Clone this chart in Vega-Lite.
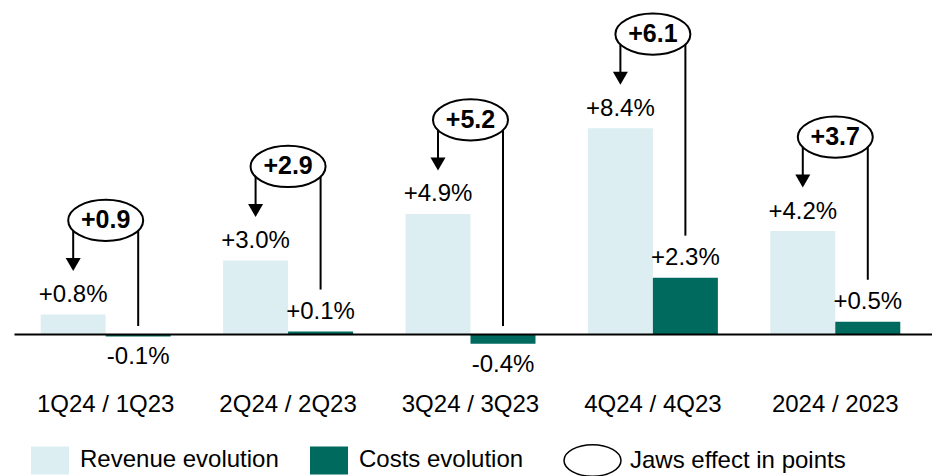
{
  "$schema": "https://vega.github.io/schema/vega-lite/v6.json",
  "width": 918,
  "height": 334,
  "autosize": {"type": "none"},
  "padding": {"left": 14, "top": 0, "right": 0, "bottom": 142},
  "background": "white",
  "config": {
    "view": {"stroke": null},
    "font": "Liberation Sans",
    "locale": {"number": {"decimal": ".", "thousands": ",", "grouping": [3], "currency": ["$", ""], "minus": "-"}}
  },
  "data": {
    "values": [
      {"period": "1Q24 / 1Q23", "Revenue evolution": 0.008, "Costs evolution": -0.001, "jaw": 0.9},
      {"period": "2Q24 / 2Q23", "Revenue evolution": 0.030, "Costs evolution": 0.001, "jaw": 2.9},
      {"period": "3Q24 / 3Q23", "Revenue evolution": 0.049, "Costs evolution": -0.004, "jaw": 5.2},
      {"period": "4Q24 / 4Q23", "Revenue evolution": 0.084, "Costs evolution": 0.023, "jaw": 6.1},
      {"period": "2024 / 2023", "Revenue evolution": 0.042, "Costs evolution": 0.005, "jaw": 3.7}
    ]
  },
  "encoding": {
    "x": {
      "field": "period",
      "type": "nominal",
      "sort": null,
      "scale": {"paddingInner": 0.2873, "paddingOuter": 0.1601, "align": 0.457},
      "axis": {
        "title": null,
        "labelAngle": 0,
        "labelFontSize": 24,
        "labelColor": "black",
        "labelPadding": 58,
        "labelLimit": 300,
        "ticks": false,
        "domainColor": "black",
        "domainWidth": 2,
        "zindex": 1
      }
    }
  },
  "layer": [
    {
      "transform": [{"fold": ["Revenue evolution", "Costs evolution"], "as": ["series", "value"]}],
      "mark": {"type": "bar"},
      "encoding": {
        "xOffset": {"field": "series", "type": "nominal", "scale": {"domain": ["Revenue evolution", "Costs evolution"], "paddingInner": 0, "paddingOuter": 0}},
        "y": {"field": "value", "type": "quantitative", "scale": {"domain": [0, 0.1363], "nice": false, "zero": false}, "axis": null},
        "color": {
          "field": "series",
          "type": "nominal",
          "scale": {"domain": ["Revenue evolution", "Costs evolution"], "range": ["#DCEEF1", "#006A5E"]},
          "legend": {
            "title": null,
            "orient": "none",
            "legendX": 17,
            "legendY": 441,
            "direction": "horizontal",
            "symbolType": "M-1,-0.737H1V0.737H-1Z",
            "symbolSize": 1444,
            "symbolStrokeWidth": 0,
            "labelFontSize": 24,
            "labelColor": "black",
            "labelLimit": 300,
            "labelOffset": 11,
            "columnPadding": 31
          }
        }
      }
    },
    {
      "transform": [{"fold": ["Revenue evolution", "Costs evolution"], "as": ["series", "value"]}, {"filter": "datum.value >= 0"}],
      "mark": {"type": "text", "fontSize": 24, "baseline": "middle", "dy": -19.5, "color": "black"},
      "encoding": {
        "xOffset": {"field": "series", "type": "nominal"},
        "y": {"field": "value", "type": "quantitative"},
        "text": {"field": "value", "type": "quantitative", "format": "+.1%"}
      }
    },
    {
      "transform": [{"fold": ["Revenue evolution", "Costs evolution"], "as": ["series", "value"]}, {"filter": "datum.value < 0"}],
      "mark": {"type": "text", "fontSize": 24, "baseline": "middle", "dy": 21, "color": "black"},
      "encoding": {
        "xOffset": {"field": "series", "type": "nominal"},
        "y": {"field": "value", "type": "quantitative"},
        "text": {"field": "value", "type": "quantitative", "format": "+.1%"}
      }
    },
    {
      "mark": {"type": "rule", "xOffset": -32.5, "yOffset": -94, "y2Offset": -50, "strokeWidth": 2, "color": "black"},
      "encoding": {
        "y": {"field": "Revenue evolution", "type": "quantitative"},
        "y2": {"field": "Revenue evolution"}
      }
    },
    {
      "transform": [{"filter": "datum['Costs evolution'] >= 0"}],
      "mark": {"type": "rule", "xOffset": 32.5, "yOffset": -94, "y2Offset": -42, "strokeWidth": 2, "color": "black"},
      "encoding": {
        "y": {"field": "Revenue evolution", "type": "quantitative"},
        "y2": {"field": "Costs evolution"}
      }
    },
    {
      "transform": [{"filter": "datum['Costs evolution'] < 0"}],
      "mark": {"type": "rule", "xOffset": 32.5, "yOffset": -94, "y2Offset": -8, "strokeWidth": 2, "color": "black"},
      "encoding": {
        "y": {"field": "Revenue evolution", "type": "quantitative"},
        "y2": {"datum": 0}
      }
    },
    {
      "mark": {"type": "point", "shape": "triangle-down", "size": 225, "filled": true, "color": "black", "opacity": 1, "xOffset": -32.5, "yOffset": -50},
      "encoding": {
        "y": {"field": "Revenue evolution", "type": "quantitative"}
      }
    },
    {
      "mark": {"type": "point", "size": 5625, "filled": true, "fill": "white", "stroke": "black", "strokeWidth": 2, "opacity": 1, "yOffset": -94},
      "encoding": {
        "y": {"field": "Revenue evolution", "type": "quantitative"},
        "shape": {
          "datum": "Jaws effect in points",
          "scale": {"range": ["M-1,0C-1,-0.3,-0.5523,-0.55,0,-0.55C0.5523,-0.55,1,-0.3,1,0C1,0.3,0.5523,0.55,0,0.55C-0.5523,0.55,-1,0.3,-1,0Z"]},
          "legend": {
            "title": null,
            "orient": "none",
            "legendX": 549,
            "legendY": 431,
            "symbolSize": 3249,
            "labelFontSize": 24,
            "labelColor": "black",
            "labelLimit": 300,
            "labelOffset": 8,
            "encode": {
              "symbols": {
                "update": {
                  "fill": {"value": "white"},
                  "stroke": {"value": "black"},
                  "strokeWidth": {"value": 1.5},
                  "opacity": {"value": 1}
                }
              }
            }
          }
        }
      }
    },
    {
      "mark": {"type": "text", "fontSize": 25, "fontWeight": "bold", "baseline": "middle", "dy": -94, "color": "black"},
      "encoding": {
        "y": {"field": "Revenue evolution", "type": "quantitative"},
        "text": {"field": "jaw", "type": "quantitative", "format": "+.1f"}
      }
    }
  ]
}
